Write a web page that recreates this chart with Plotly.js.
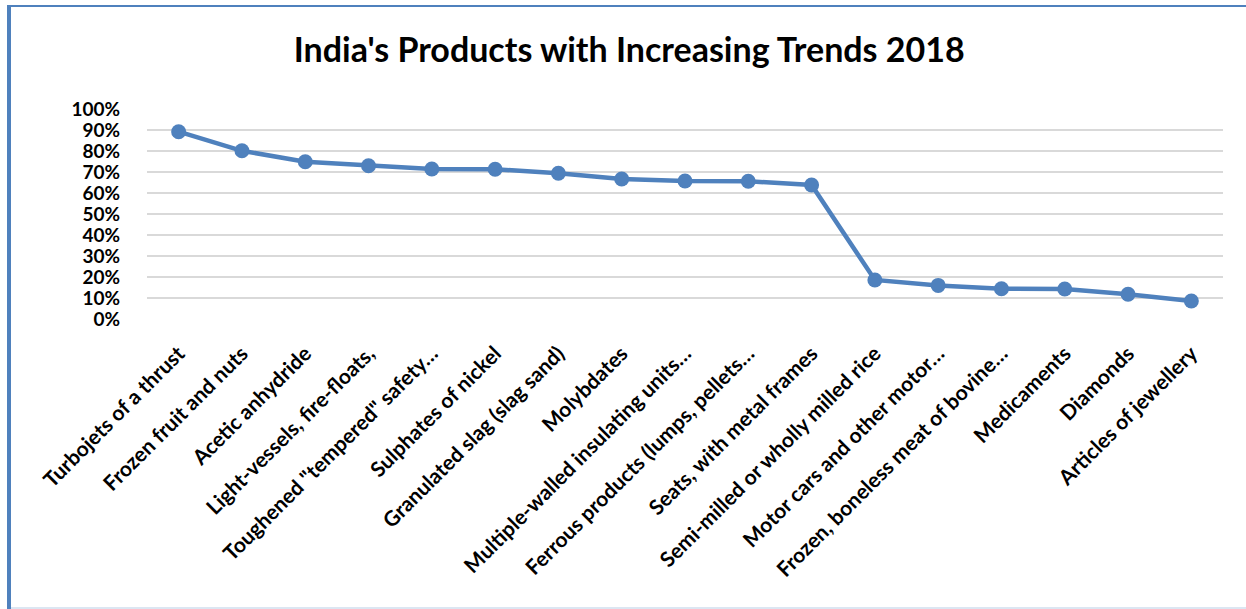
<!DOCTYPE html>
<html>
<head>
<meta charset="utf-8">
<script src="https://cdn.plot.ly/plotly-3.0.1.min.js"></script>
<style>
  html, body { margin: 0; padding: 0; background: #fff; }
  #wrap { position: relative; width: 1246px; height: 609px; overflow: hidden; }
  #chart { position: absolute; left: 0; top: 0; width: 1246px; height: 609px; }
  .bl { position: absolute; left: 7px; top: 5px; width: 4px; height: 604px; background: #4f81bd; pointer-events: none; }
  .bt { position: absolute; left: 7px; top: 5px; width: 1239px; height: 2px; background: #4f81bd; pointer-events: none; }
  .bb { position: absolute; left: 11px; top: 607px; width: 1235px; height: 2px; background: #dce6f2; pointer-events: none; }
</style>
</head>
<body>
<div id="wrap">
  <div id="chart"></div>
  <div class="bl"></div><div class="bt"></div><div class="bb"></div>
</div>
<script>
const categories = [
  "Turbojets of a thrust",
  "Frozen fruit and nuts",
  "Acetic anhydride",
  "Light-vessels, fire-floats,",
  "Toughened \"tempered\" safety…",
  "Sulphates of nickel",
  "Granulated slag (slag sand)",
  "Molybdates",
  "Multiple-walled insulating units…",
  "Ferrous products (lumps, pellets…",
  "Seats, with metal frames",
  "Semi-milled or wholly milled rice",
  "Motor cars and other motor…",
  "Frozen, boneless meat of bovine…",
  "Medicaments",
  "Diamonds",
  "Articles of jewellery"
];
const shareValues = [0.892, 0.801, 0.749, 0.730, 0.714, 0.713, 0.694, 0.667, 0.657, 0.656, 0.638, 0.186, 0.160, 0.144, 0.143, 0.118, 0.086];
const yTickValues = [0, 0.1, 0.2, 0.3, 0.4, 0.5, 0.6, 0.7, 0.8, 0.9, 1.0];
const yTickLabels = ["0%", "10%", "20%", "30%", "40%", "50%", "60%", "70%", "80%", "90%", "100%"];

const trace = {
  type: "scatter",
  mode: "lines+markers",
  x: categories,
  y: shareValues,
  line: { color: "#4f81bd", width: 4.5 },
  marker: { color: "#4f81bd", size: 15 },
  hoverinfo: "x+y"
};

const FONT = "Lato, 'Open Sans', sans-serif";

const layout = {
  width: 1246,
  height: 609,
  paper_bgcolor: "rgba(0,0,0,0)",
  plot_bgcolor: "#ffffff",
  showlegend: false,
  margin: { l: 147, r: 23, t: 109, b: 290 },
  font: { family: FONT, color: "#000000" },
  title: {
    text: "<b>India's Products with Increasing Trends 2018</b>",
    font: { family: FONT, size: 34, color: "#000000" },
    x: 0.505, xanchor: "center",
    y: 0.918, yanchor: "middle"
  },
  xaxis: {
    type: "category",
    range: [-0.5, 16.5],
    tickangle: -45,
    tickfont: { size: 21, family: FONT, weight: "bold", color: "#000000" },
    ticks: "outside",
    ticklen: 13,
    tickcolor: "rgba(0,0,0,0)",
    showgrid: false,
    showline: false,
    zeroline: false,
    fixedrange: true
  },
  yaxis: {
    range: [0, 1],
    tickvals: yTickValues,
    ticktext: yTickLabels,
    tickfont: { size: 19, family: FONT, weight: "bold", color: "#000000" },
    ticks: "outside",
    ticklen: 22,
    tickcolor: "rgba(0,0,0,0)",
    showgrid: true,
    gridcolor: "#d9d9d9",
    gridwidth: 1.5,
    showline: false,
    zeroline: false,
    fixedrange: true
  }
};

Plotly.newPlot("chart", [trace], layout, { displayModeBar: false, staticPlot: true });
</script>
</body>
</html>
